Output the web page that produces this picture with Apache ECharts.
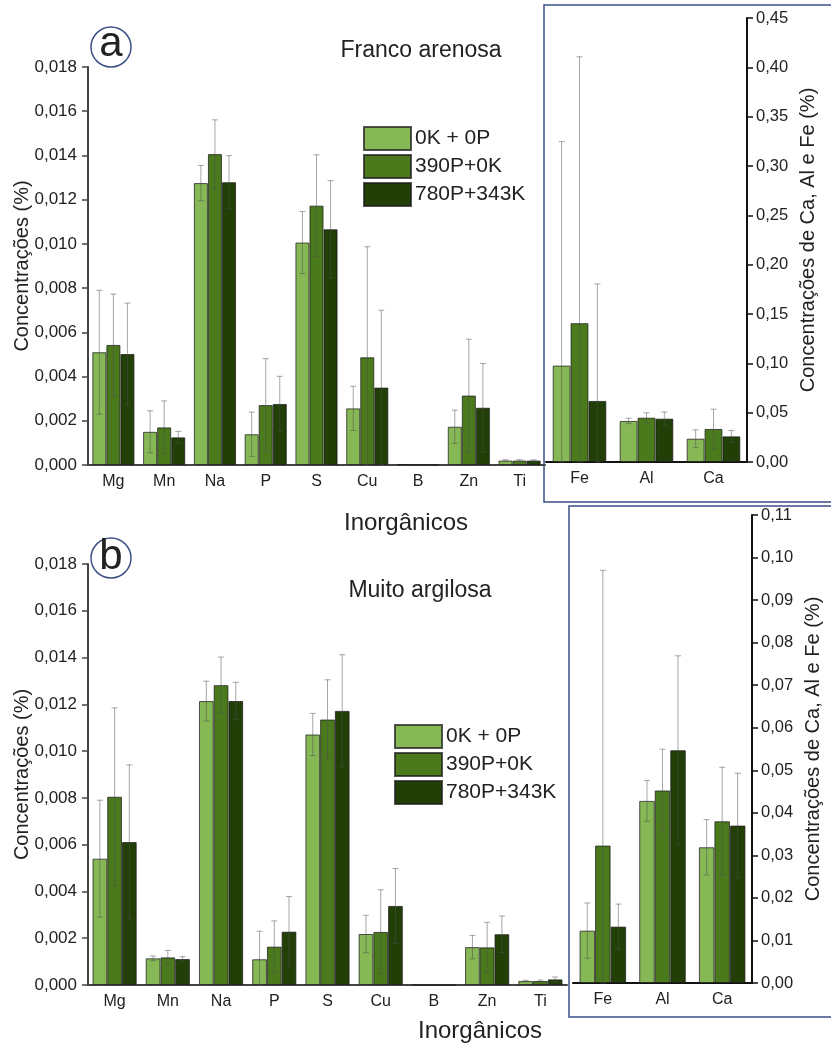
<!DOCTYPE html>
<html>
<head>
<meta charset="utf-8">
<script src="https://cdn.jsdelivr.net/npm/echarts@6/dist/echarts.min.js"></script>
<style>
  html, body { margin: 0; padding: 0; background: #fff; }
  #chart { width: 831px; height: 1047px; }
</style>
</head>
<body>
<div id="chart"></div>
<script>
// categories
const minorEls = ['Mg', 'Mn', 'Na', 'P', 'S', 'Cu', 'B', 'Zn', 'Ti']
const majorEls = ['Fe', 'Al', 'Ca']
const treatments = ['0K + 0P', '390P+0K', '780P+343K']
const colors = ['#86b856', '#4a7a1c', '#213f06']

// panel a - Franco arenosa
const aMinor0 = [0.0051, 0.0015, 0.01275, 0.00139, 0.01006, 0.00256, 0.00003, 0.00173, 0.0002]
const aMinor1 = [0.00543, 0.0017, 0.01406, 0.00271, 0.01173, 0.00487, 0.00001, 0.00314, 0.0002]
const aMinor2 = [0.00502, 0.00125, 0.01279, 0.00276, 0.01066, 0.0035, 0.00001, 0.00259, 0.0002]
const aMinorErr0 = [0.0028, 0.00095, 0.0008, 0.001, 0.0014, 0.001, 0, 0.00075, 0.00004]
const aMinorErr1 = [0.0023, 0.0012, 0.00155, 0.0021, 0.0023, 0.005, 0, 0.00255, 0.00004]
const aMinorErr2 = [0.0023, 0.00027, 0.0012, 0.00125, 0.0022, 0.0035, 0, 0.002, 0.00003]
const aMajor0 = [0.0977, 0.0416, 0.0236]
const aMajor1 = [0.1407, 0.0449, 0.0335]
const aMajor2 = [0.0619, 0.0439, 0.026]
const aMajorErr0 = [0.227, 0.0027, 0.009]
const aMajorErr1 = [0.27, 0.005, 0.02]
const aMajorErr2 = [0.1186, 0.0068, 0.006]

// panel b - Muito argilosa
const bMinor0 = [0.0054, 0.00114, 0.01214, 0.0011, 0.01071, 0.00218, 0, 0.00162, 0.00017]
const bMinor1 = [0.00805, 0.00118, 0.01282, 0.00164, 0.01135, 0.00227, 0, 0.00161, 0.00017]
const bMinor2 = [0.00611, 0.00111, 0.01214, 0.00228, 0.01172, 0.00338, 0, 0.00217, 0.00024]
const bMinorErr0 = [0.0025, 0.0001, 0.00085, 0.0012, 0.0009, 0.0008, 0, 0.0005, 0.00003]
const bMinorErr1 = [0.0038, 0.0003, 0.0012, 0.0011, 0.0017, 0.0018, 0, 0.00107, 0.00004]
const bMinorErr2 = [0.0033, 0.0001, 0.0008, 0.0015, 0.0024, 0.0016, 0, 0.00078, 0.0001]
const bMajor0 = [0.0123, 0.0428, 0.0319]
const bMajor1 = [0.0323, 0.04525, 0.038]
const bMajor2 = [0.01325, 0.0547, 0.037]
const bMajorErr0 = [0.0065, 0.0048, 0.0065]
const bMajorErr1 = [0.0647, 0.0097, 0.0127]
const bMajorErr2 = [0.0053, 0.0222, 0.0123]

const font = '"Liberation Sans", Arial, sans-serif'
const boxColor = '#3d5088'

const comma = (d) => (v) => v.toFixed(d).replace('.', ',')

// grid layouts: [left, top, width, height], barCategoryGap fraction
const panels = [
  { box: [88, 67, 457, 398], gap: 0.17, cats: minorEls, vals: [aMinor0, aMinor1, aMinor2], errs: [aMinorErr0, aMinorErr1, aMinorErr2], max: 0.018, interval: 0.002, dec: 3, side: 'left', axisColor: '#444' },
  { box: [546, 18, 201, 444], gap: 0.2, cats: majorEls, vals: [aMajor0, aMajor1, aMajor2], errs: [aMajorErr0, aMajorErr1, aMajorErr2], max: 0.45, interval: 0.05, dec: 2, side: 'right', axisColor: '#111' },
  { box: [88, 564, 479, 421], gap: 0.17, cats: minorEls, vals: [bMinor0, bMinor1, bMinor2], errs: [bMinorErr0, bMinorErr1, bMinorErr2], max: 0.018, interval: 0.002, dec: 3, side: 'left', axisColor: '#444' },
  { box: [573, 515, 179, 468], gap: 0.22, cats: majorEls, vals: [bMajor0, bMajor1, bMajor2], errs: [bMajorErr0, bMajorErr1, bMajorErr2], max: 0.11, interval: 0.01, dec: 2, side: 'right', axisColor: '#111' }
]

const grid = []
const xAxis = []
const yAxis = []
const series = []

panels.forEach((p, i) => {
  const [l, t, w, h] = p.box
  grid.push({ left: l, top: t, width: w, height: h, containLabel: false, outerBoundsMode: 'none' })
  grid.push({ left: l, top: t, width: w, height: h, containLabel: false, outerBoundsMode: 'none' })
  // main category axis, ticks under labels
  xAxis.push({
    type: 'category', gridIndex: 2 * i, data: p.cats,
    axisLine: { lineStyle: { color: p.axisColor, width: 2 } },
    axisTick: { alignWithLabel: true, length: 6, lineStyle: { color: p.axisColor, width: 1.5 } },
    axisLabel: { fontFamily: font, fontSize: 16, color: '#222', margin: 9 }
  })
  // boundary ticks only
  xAxis.push({
    type: 'category', gridIndex: 2 * i + 1, data: p.cats,
    axisLine: { show: false },
    axisTick: { length: 4, lineStyle: { color: p.axisColor, width: 1.2 } },
    axisLabel: { show: false }
  })
  const left = p.side === 'left'
  yAxis.push({
    type: 'value', gridIndex: 2 * i, position: p.side, min: 0, max: p.max, interval: p.interval,
    name: left ? 'Concentrações (%)' : 'Concentrações de Ca, Al e Fe (%)',
    nameLocation: 'middle', nameRotate: 90, nameMoveOverlap: false,
    nameGap: left ? 56 : 51,
    nameTextStyle: { fontFamily: font, fontSize: 20, color: '#222' },
    axisLine: { show: true, lineStyle: { color: p.axisColor, width: 2 } },
    axisTick: { show: true, length: 6, lineStyle: { color: p.axisColor, width: 1.5 } },
    splitLine: { show: false },
    axisLabel: { fontFamily: font, fontSize: left ? 17 : 16.5, color: '#222', margin: left ? 11 : 9, formatter: comma(p.dec) }
  })
  yAxis.push({ type: 'value', gridIndex: 2 * i + 1, min: 0, max: p.max, show: false })

  treatments.forEach((name, k) => {
    series.push({
      type: 'bar', name, xAxisIndex: 2 * i, yAxisIndex: 2 * i,
      data: p.vals[k], barGap: '0%', barCategoryGap: Math.round(p.gap * 100) + '%',
      itemStyle: { color: colors[k], borderColor: 'rgba(30,30,30,0.75)', borderWidth: 1 },
      z: 2
    })
  })

  const errData = []
  treatments.forEach((name, k) => {
    p.vals[k].forEach((v, ci) => errData.push([ci, v, p.errs[k][ci], k]))
  })
  series.push({
    type: 'custom', xAxisIndex: 2 * i, yAxisIndex: 2 * i, z: 5, silent: true,
    data: errData,
    renderItem: (params, api) => {
      const ci = api.value(0), v = api.value(1), e = api.value(2), k = api.value(3)
      if (!e) return null
      const band = api.size([1, 0])[0]
      const bw = band * (1 - p.gap) / 3
      const base = api.coord([ci, v])
      const x = base[0] + (k - 1) * bw
      const yTop = api.coord([ci, v + e])[1]
      const yBot = api.coord([ci, Math.max(v - e, 0)])[1]
      const cap = 3
      const style = { stroke: 'rgba(80,80,80,0.5)', lineWidth: 1 }
      return {
        type: 'group',
        children: [
          { type: 'line', shape: { x1: x, y1: yTop, x2: x, y2: yBot }, style },
          { type: 'line', shape: { x1: x - cap, y1: yTop, x2: x + cap, y2: yTop }, style },
          { type: 'line', shape: { x1: x - cap, y1: yBot, x2: x + cap, y2: yBot }, style }
        ]
      }
    }
  })
})

const legendCommon = {
  orient: 'vertical', icon: 'rect', itemWidth: 47, itemHeight: 23, itemGap: 3,
  data: treatments,
  textStyle: { fontFamily: font, fontSize: 21, color: '#222', padding: [0, 0, 0, -1] }
}

const textEl = (txt, x, y, size) => ({
  type: 'text', x, y,
  style: { text: txt, fontFamily: font, fontSize: size, fill: '#222', align: 'center', verticalAlign: 'middle' }
})

const option = {
  animation: false,
  backgroundColor: '#fff',
  grid, xAxis, yAxis, series,
  legend: [
    Object.assign({ left: 358, top: 121 }, legendCommon),
    Object.assign({ left: 389, top: 719 }, legendCommon)
  ],
  graphic: [
    { type: 'rect', shape: { x: 544, y: 5, width: 300, height: 497 }, style: { fill: 'none', stroke: boxColor, lineWidth: 1.5 } },
    { type: 'rect', shape: { x: 569, y: 506, width: 300, height: 511 }, style: { fill: 'none', stroke: boxColor, lineWidth: 1.5 } },
    { type: 'circle', shape: { cx: 111, cy: 47, r: 20 }, style: { fill: '#fff', stroke: boxColor, lineWidth: 1.5 } },
    textEl('a', 111, 44, 42),
    { type: 'circle', shape: { cx: 111, cy: 558, r: 20 }, style: { fill: '#fff', stroke: boxColor, lineWidth: 1.5 } },
    textEl('b', 111, 557, 42),
    textEl('Franco arenosa', 421, 51, 23),
    textEl('Inorgânicos', 406, 523, 24),
    textEl('Muito argilosa', 420, 591, 23),
    textEl('Inorgânicos', 480, 1031, 24)
  ]
}

const chart = echarts.init(document.getElementById('chart'))
chart.setOption(option)
</script>
</body>
</html>
